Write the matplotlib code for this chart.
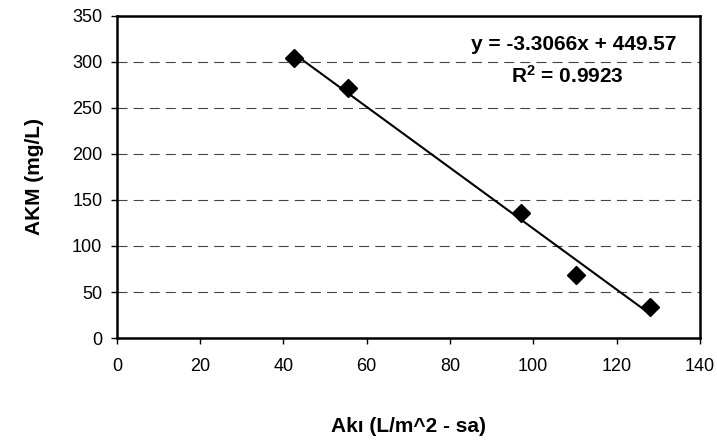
import matplotlib
matplotlib.use('Agg')
import matplotlib.pyplot as plt
import numpy as np

plt.rcParams.update({
    'font.family': ['Liberation Sans', 'DejaVu Sans'],
    'font.size': 13,
    'mathtext.fontset': 'custom',
    'mathtext.rm': 'Liberation Sans',
    'mathtext.bf': 'Liberation Sans:bold',
})

# Veriler
aki = [42.5, 55.6, 97.0, 110.3, 128.0]
akm = [304, 272, 136, 68, 34]

# Trend çizgisi katsayıları
slope = -3.3066
intercept = 449.57
r2 = 0.9923

x_ticks = [0, 20, 40, 60, 80, 100, 120, 140]
y_ticks = [0, 50, 100, 150, 200, 250, 300, 350]

fig = plt.figure(figsize=(7.17, 4.43), dpi=100)
ax = fig.add_axes([0.163, 0.237, 0.813, 0.727])

# Yatay kesikli ızgara
for yv in y_ticks[1:-1]:
    ax.axhline(yv, color='#444444', linestyle=(0, (9, 5.5)), linewidth=0.8, zorder=1)

xs = np.array([min(aki), max(aki)])
ax.plot(xs, slope * xs + intercept, color='black', linewidth=1.5, zorder=2)
ax.plot(aki, akm, linestyle='none', marker='D', markersize=9,
        color='black', zorder=3)

ax.set_xlim(0, 140)
ax.set_ylim(0, 350)
ax.set_xticks(x_ticks)
ax.set_yticks(y_ticks)
ax.tick_params(direction='out', length=4.5, width=1)
ax.tick_params(axis='y', pad=6)
ax.tick_params(axis='x', pad=10)
for sp in ax.spines.values():
    sp.set_linewidth(1.8)

ax.set_xlabel("Akı (L/m^2 - sa)", fontweight='bold', fontsize=15, labelpad=30)
ax.set_ylabel("AKM (mg/L)", fontweight='bold', fontsize=15, labelpad=20)

ax.text(0.96, 0.91, f"y = {slope:.4f}x + {intercept:.2f}", transform=ax.transAxes,
        ha='right', va='center', fontweight='bold', fontsize=15)
ax.text(0.87, 0.815, r"$\mathbf{R^2}$" + f" = {r2:.4f}", transform=ax.transAxes,
        ha='right', va='center', fontweight='bold', fontsize=15)

fig.savefig("out.png", dpi=100)
